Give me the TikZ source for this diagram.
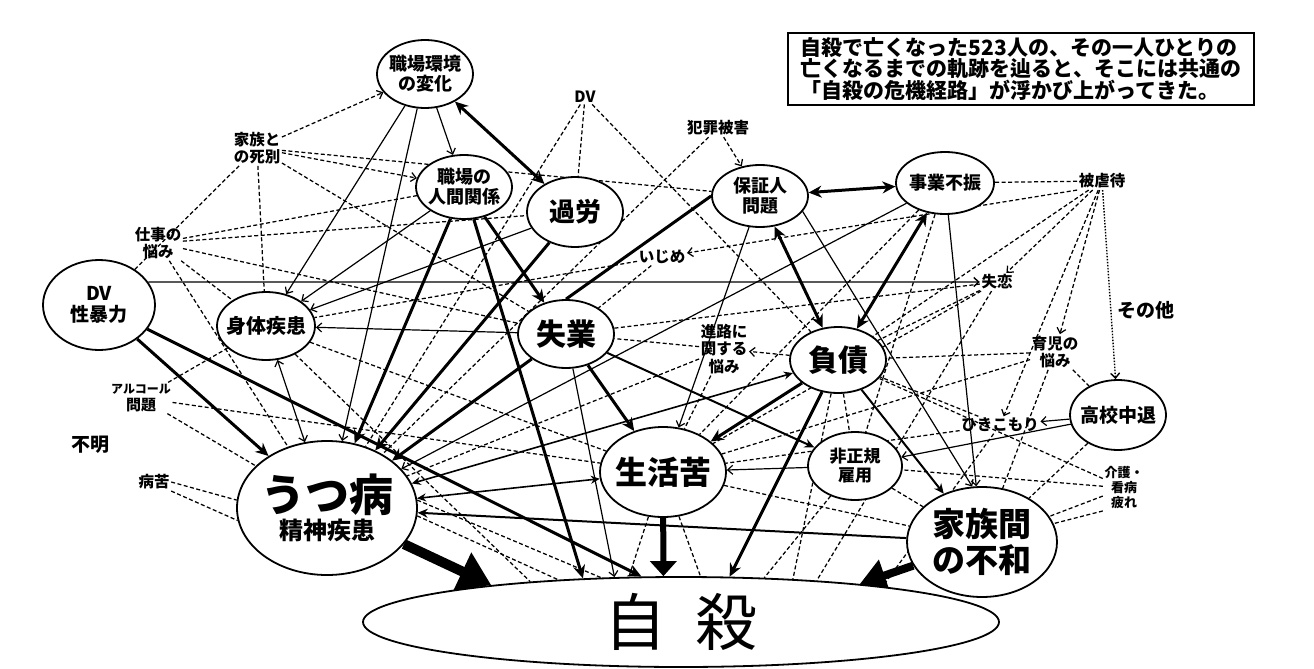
\documentclass[tikz,border=0pt]{standalone}
\usepackage{fontspec}
\newfontfamily\jp{Noto Sans CJK JP}
\usetikzlibrary{shapes.geometric,arrows.meta,backgrounds}
\newcommand{\jfs}[2]{\fontsize{#1}{#2}\selectfont}
\tikzset{
  ell/.style={draw, ellipse, line width=1.8pt, fill=white, inner sep=-6pt, align=center, font=\jp\bfseries},
  lbl/.style={inner sep=1.5pt, align=center, font=\jp\bfseries\jfs{15.5}{17.5}},
  dl/.style={line width=1.25pt, dash pattern=on 4pt off 2.5pt},
  dla/.style={dl, -{Straight Barb[length=5pt,width=9pt]}},
  dta/.style={line width=1.4pt, dash pattern=on 1.5pt off 1.5pt, -{Straight Barb[length=5pt,width=9pt]}},
  sl/.style={line width=1.2pt},
  sla/.style={sl, -{Straight Barb[length=5pt,width=9pt]}},
  sld/.style={sl, {Straight Barb[length=5pt,width=9pt]}-{Straight Barb[length=5pt,width=9pt]}},
  tka/.style={line width=3pt, -{Stealth[length=13pt,width=12pt]}},
  tkl/.style={line width=3pt},
  dbl/.style={line width=3pt, {Stealth[length=13pt,width=12pt]}-{Stealth[length=13pt,width=12pt]}},
  mda/.style={line width=2pt, -{Stealth[length=10pt,width=9pt]}},
  mdd/.style={line width=1.6pt, {Stealth[length=9pt,width=8pt]}-{Stealth[length=9pt,width=8pt]}},
  bigarrow/.style={line width=10pt, -{Triangle[length=32pt,width=40pt]}},
  bigarrowb/.style={line width=8pt, -{Triangle[length=26pt,width=32pt]}},
  midarrow/.style={line width=6pt, -{Triangle[length=15pt,width=26pt]}},
}
\begin{document}
\begin{tikzpicture}[x=1pt,y=-1pt]
\useasboundingbox (0,0) rectangle (1314,669);
% ellipses
\node[ell, minimum width=96pt, minimum height=68pt, font=\jp\bfseries\jfs{18}{20}] (kankyo) at (425,74) {職場環境\\の変化};
\node[ell, minimum width=96pt, minimum height=64pt, font=\jp\bfseries\jfs{18}{20}] (ningen) at (464,187) {職場の\\人間関係};
\node[ell, minimum width=96pt, minimum height=70pt, font=\jp\bfseries\jfs{26}{28}] (karou) at (575,212) {過労};
\node[ell, minimum width=96pt, minimum height=62pt, font=\jp\bfseries\jfs{18}{20}] (hosho) at (760,196) {保証人\\問題};
\node[ell, minimum width=98pt, minimum height=62pt, font=\jp\bfseries\jfs{18}{20}] (jigyo) at (945,183) {事業不振};
\node[ell, minimum width=112pt, minimum height=90pt, font=\jp\bfseries\jfs{19}{21}] (dv) at (99,305) {DV\\性暴力};
\node[ell, minimum width=98pt, minimum height=68pt, font=\jp\bfseries\jfs{20}{22}] (shintai) at (266,326) {身体疾患};
\node[ell, minimum width=96pt, minimum height=68pt, font=\jp\bfseries\jfs{30}{32}] (shitsugyo) at (566,334) {失業};
\node[ell, minimum width=96pt, minimum height=66pt, font=\jp\bfseries\jfs{30}{32}] (fusai) at (838,360) {負債};
\node[ell, minimum width=96pt, minimum height=70pt, font=\jp\bfseries\jfs{19}{21}] (koukou) at (1118,415) {高校中退};
\node[ell, minimum width=94pt, minimum height=68pt, font=\jp\bfseries\jfs{17}{19}] (hiseiki) at (855,466) {非正規\\雇用};
\node[ell, minimum width=126pt, minimum height=90pt, font=\jp\bfseries\jfs{32}{34}] (seikatsu) at (663,472) {生活苦};
\node[ell, minimum width=180pt, minimum height=134pt, font=\jp\bfseries\jfs{24}{26}] (utsu) at (327,508) {{\jfs{44}{46}うつ病}\\[2pt]精神疾患};
\node[ell, minimum width=150pt, minimum height=110pt, font=\jp\bfseries\jfs{33}{36}] (kazoku) at (982,542) {家族間\\の不和};
\node[ell, line width=1.8pt, minimum width=636pt, minimum height=90pt, font=\jp\jfs{62}{64}] (jisatsu) at (681,622) {自\hspace{30pt}殺};
% labels
\node[lbl] (shibetsu) at (257,148) {家族と\\の死別};
\node[lbl] (dvl) at (585,97) {DV};
\node[lbl] (hanzai) at (718,128) {犯罪被害};
\node[lbl] (shigoto) at (158,243) {仕事の\\悩み};
\node[lbl] (ijime) at (662,257) {いじめ};
\node[lbl] (shitsuren) at (997,282) {失恋};
\node[lbl, font=\jp\bfseries\jfs{19}{21}] (sonota) at (1146,310) {その他};
\node[lbl] (ikuji) at (1055,352) {育児の\\悩み};
\node[lbl] (gyakutai) at (1102,181) {被虐待};
\node[lbl] (shinro) at (724,349) {進路に\\関する\\悩み};
\node[lbl, font=\jp\bfseries\jfs{12}{17}] (alc) at (141,398) {アルコール\\{\jfs{15}{17}問題}};
\node[lbl, font=\jp\bfseries\jfs{19}{21}] (fumei) at (90,445) {不明};
\node[lbl] (byoku) at (154,482) {病苦};
\node[lbl] (hiki) at (1000,425) {ひきこもり};
\node[lbl, font=\jp\bfseries\jfs{13}{15}] (kaigo) at (1124,488) {介護・\\看病\\疲れ};
% text box
\node[draw, line width=1.8pt, minimum width=466pt, minimum height=72pt, align=left, inner xsep=10pt, font=\jp\bfseries\jfs{21}{21.5}] (box) at (1021,69) {自殺で亡くなった523人の、その一人ひとりの\\亡くなるまでの軌跡を辿ると、そこには共通の\\「自殺の危機経路」が浮かび上がってきた。};

\begin{pgfonlayer}{background}
\fill[white] (0,0) rectangle (1314,669);
% dashed web
\draw[dla] (shibetsu) -- (kankyo);
\draw[dl] (shibetsu) -- (hosho);
\draw[dla] (shibetsu) -- (ningen);
\draw[dl] (shibetsu) -- (shitsugyo);
\draw[dl] (shibetsu) -- (shintai);
\draw[dl] (shibetsu) -- (dv);
\draw[dl] (shigoto) -- (ningen);
\draw[dl] (shigoto) -- (shintai);
\draw[dl] (shigoto) -- (utsu);
\draw[dl] (shigoto) -- (karou);
\draw[dl] (shigoto) -- (shitsugyo);
\draw[dl] (dvl) -- (utsu);
\draw[dl] (dvl) -- (karou);
\draw[dl] (dvl) -- (fusai);
\draw[dl] (hanzai) -- (utsu);
\draw[dla] (hanzai) -- (hosho);
\draw[dla] (gyakutai.south west) -- (ijime);
\draw[dla] (gyakutai) -- (shitsuren);
\draw[dla] (gyakutai) -- (ikuji);
\draw[dta] (gyakutai) -- (koukou);
\draw[dla] (gyakutai) -- (hiki);
\draw[dl] (gyakutai) -- (jigyo);
\draw[dl] (gyakutai) -- (fusai);
\draw[dl] (shitsuren) -- (shitsugyo);
\draw[dl] (shitsuren) -- (fusai);
\draw[dl] (shitsuren) -- (seikatsu);
\draw[dl] (ikuji) -- (fusai);
\draw[dl] (ikuji) -- (kazoku);
\draw[dl] (ikuji) -- (seikatsu);
\draw[dl] (ikuji) -- (koukou);
\draw[dl] (koukou) -- (kazoku);
\draw[dl] (hiki) -- (seikatsu);
\draw[dl] (hiki) -- (fusai);
\draw[dl] (kaigo) -- (kazoku);
\draw[dl] (kaigo.south west) -- (kazoku);
\draw[dl] (kaigo) -- (hiseiki);
\draw[dl] (kaigo) -- (fusai);
\draw[dl] (byoku.east) -- (utsu.175);
\draw[dl] (byoku.south east) -- (utsu.188);
\draw[dl] (alc) -- (utsu);
\draw[dl] (alc) -- (shintai);
\draw[dl] (alc) -- (seikatsu);
\draw[dl] (shinro) -- (utsu);
\draw[dl] (shinro) -- (shitsugyo);
\draw[dl] (shinro) -- (seikatsu);
\draw[dla] (fusai) -- (shinro);
\draw[dl] (ijime) -- (shintai);
\draw[dl] (ijime) -- (shitsugyo);
\draw[dl] (shintai) -- (jisatsu.165.3);
\draw[dl] (shintai) -- (seikatsu);
\draw[dl] (jigyo) -- (seikatsu);
\draw[dl] (jigyo) -- (hiseiki);
\draw[dl] (fusai) -- (hiseiki);
\draw[dl] (hiseiki) -- (jisatsu.28.9);
\draw[dl] (hiseiki) -- (kazoku);
\draw[dl] (seikatsu) -- (kazoku);
\draw[dl] (fusai) -- (jisatsu.21.2);
\draw[dl] (hiki) -- (jisatsu.10.8);
\draw[dl] (shitsuren) -- (jisatsu.17.7);
\draw[dl] (seikatsu) -- (jisatsu.139);
\draw[dl] (seikatsu) -- (jisatsu.67.1);
\draw[dl] (utsu.5) -- (jisatsu.151.8);
\draw[dl] (utsu.-5) -- (jisatsu.161);
% thin solid
\draw[sla] (kankyo) -- (ningen);
\draw[sla] (kankyo) -- (shintai);
\draw[sla] (kankyo) -- (utsu);
\draw[sla] (ningen) -- (shintai);
\draw[sla] (karou) -- (shintai);
\draw[sla] (shitsugyo) -- (shintai);
\draw[sld] (shintai) -- (utsu);
\draw[sla] (hosho) -- (seikatsu);
\draw[sla] (hosho.-20) -- (kazoku.100);
\draw[sla] (jigyo) -- (kazoku);
\draw[sla] (jigyo) -- (utsu);
\draw[sla] (hiseiki) -- (seikatsu);
\draw[sla] (koukou) -- (hiki);
\draw[sla] (koukou) -- (hiseiki);
\draw[sla] (shitsugyo) -- (jisatsu.146.3);
\draw[sla, line width=1.4pt] (dv.25.6) -- (shitsuren);
% medium / thick
\draw[mda] (fusai) -- (kazoku);
\draw[mda] (shitsugyo) -- (hiseiki);
\draw[mda] (kazoku) -- (utsu);
\draw[mdd] (utsu) -- (seikatsu);
\draw[mdd] (utsu) -- (fusai);
\draw[tka] (dv) -- (utsu);
\draw[tka] (dv) -- (jisatsu.131.1);
\draw[tka] (ningen) -- (jisatsu.156.4);
\draw[tka] (fusai) -- (jisatsu.43.4);
\draw[tka] (shitsugyo) -- (seikatsu);
\draw[tka] (ningen) -- (utsu);
\draw[tka] (karou) -- (utsu);
\draw[tka] (shitsugyo) -- (utsu);
\draw[tka] (ningen) -- (shitsugyo);
\draw[tka] (fusai) -- (seikatsu);
\draw[tkl] (hosho.west) -- (shitsugyo.north);
\draw[dbl] (kankyo) -- (karou);
\draw[dbl] (hosho) -- (jigyo);
\draw[dbl] (hosho) -- (fusai);
\draw[dbl] (jigyo) -- (fusai);
\draw[midarrow] (seikatsu) -- (jisatsu.111.8);
\draw[bigarrowb] (kazoku) -- (jisatsu.12.4);
\draw[bigarrow] (utsu) -- (jisatsu.169.8);
\end{pgfonlayer}
\end{tikzpicture}
\end{document}
